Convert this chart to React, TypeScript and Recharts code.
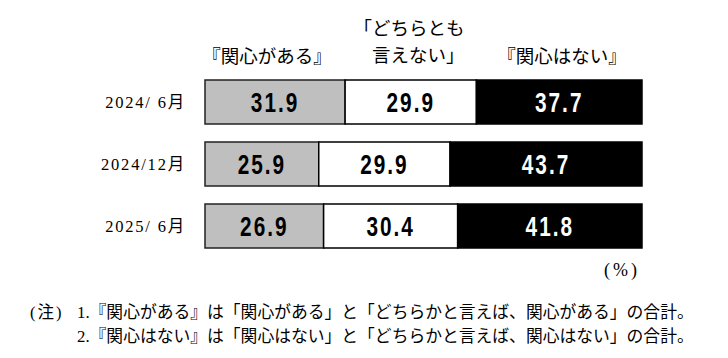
import { BarChart, Bar, XAxis, YAxis, LabelList } from 'recharts'

const periods = ['2024/ 6月', '2024/12月', '2025/ 6月']
const interested = [31.9, 25.9, 26.9]
const neutral = [29.9, 29.9, 30.4]
const notInterested = [37.7, 43.7, 41.8]

const data = periods.map((p, i) => ({
  period: p,
  a: interested[i],
  b: neutral[i],
  c: notInterested[i],
}))

const serif = "'Liberation Serif', 'Noto Sans CJK JP', serif"
const valueFont = "'Liberation Sans', sans-serif"

// condensed bold value inside each segment
const makeLabel = (color: string) => (props: any) => {
  const { x, y, width, height, value } = props
  const cx = Number(x) + Number(width) / 2
  const cy = Number(y) + Number(height) / 2
  return (
    <text
      x={0}
      y={0}
      transform={`translate(${cx},${cy}) scale(0.8,1.05)`}
      textAnchor="middle"
      dominantBaseline="central"
      fill={color}
      fontSize={26}
      fontWeight={700}
      fontFamily={valueFont}
      letterSpacing={2.5}
    >
      {Number(value).toFixed(1)}
    </text>
  )
}

export default function App() {
  return (
    <div style={{ position: 'relative', width: 728, height: 358, background: '#fff', fontFamily: serif }}>
      <style>{'body{margin:0}'}</style>
      <div style={{ position: 'absolute', left: 200, top: 44, width: 134, textAlign: 'center', fontSize: 18.5, lineHeight: '26px', whiteSpace: 'nowrap' }}>
        『関心がある』
      </div>
      <div style={{ position: 'absolute', left: 345, top: 16, width: 128, textAlign: 'center', fontSize: 18.5, lineHeight: '27px', whiteSpace: 'nowrap' }}>
        「どちらとも<br />　言えない」
      </div>
      <div style={{ position: 'absolute', left: 495, top: 44, width: 134, textAlign: 'center', fontSize: 18.5, lineHeight: '26px', whiteSpace: 'nowrap' }}>
        『関心はない』
      </div>
      <BarChart
        width={728}
        height={270}
        data={data}
        layout="vertical"
        stackOffset="expand"
        margin={{ top: 71, right: 86, bottom: 13, left: 0 }}
      >
        <XAxis type="number" domain={[0, 1]} hide />
        <YAxis
          type="category"
          dataKey="period"
          width={205}
          tickSize={0}
          tickMargin={19}
          axisLine={false}
          tickLine={false}
          tick={{ fill: '#000', fontSize: 16.5, fontFamily: serif, letterSpacing: 1.8 }}
        />
        <Bar dataKey="a" stackId="s" fill="#bfbfbf" stroke="#222" strokeWidth={1.5} barSize={44} isAnimationActive={false}>
          <LabelList dataKey="a" content={makeLabel('#000')} />
        </Bar>
        <Bar dataKey="b" stackId="s" fill="#fff" stroke="#000" strokeWidth={1.5} barSize={44} isAnimationActive={false}>
          <LabelList dataKey="b" content={makeLabel('#000')} />
        </Bar>
        <Bar dataKey="c" stackId="s" fill="#000" stroke="#000" strokeWidth={1.5} barSize={44} isAnimationActive={false}>
          <LabelList dataKey="c" content={makeLabel('#fff')} />
        </Bar>
      </BarChart>
      <div style={{ position: 'absolute', left: 604, top: 257, fontSize: 18, lineHeight: '26px', letterSpacing: 3 }}>(%)</div>
      <div style={{ position: 'absolute', left: 30, top: 301, fontSize: 16.5, lineHeight: '24px', whiteSpace: 'nowrap', letterSpacing: 2 }}>
        (注)
      </div>
      <div style={{ position: 'absolute', left: 77, top: 301, fontSize: 16.8, lineHeight: '24px', whiteSpace: 'nowrap' }}>
        <div>1.『関心がある』は「関心がある」と「どちらかと言えば、関心がある」の合計。</div>
        <div>2.『関心はない』は「関心はない」と「どちらかと言えば、関心はない」の合計。</div>
      </div>
    </div>
  )
}
